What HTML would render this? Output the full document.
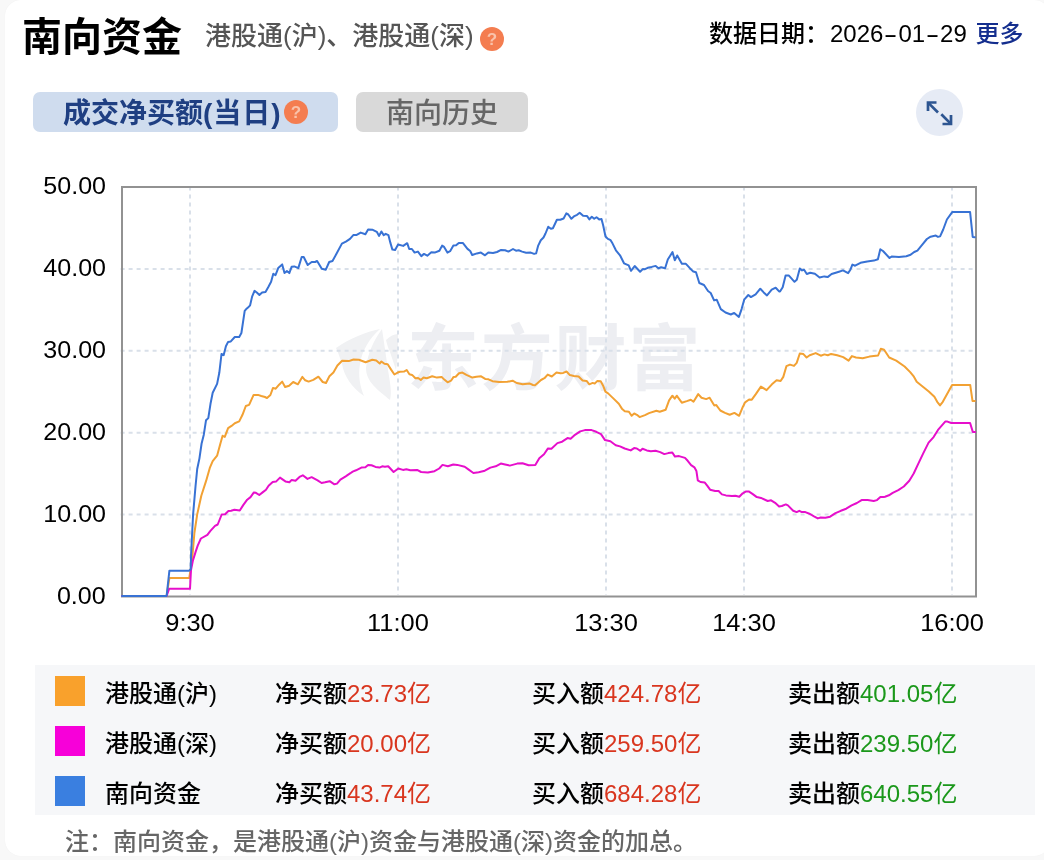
<!DOCTYPE html>
<html lang="zh-CN">
<head>
<meta charset="utf-8">
<title>南向资金</title>
<style>
*{margin:0;padding:0;box-sizing:border-box;}
html,body{width:1044px;height:860px;overflow:hidden;background:#f8f8f8;}
body{position:relative;font-family:"Liberation Sans","Noto Sans CJK SC",sans-serif;color:#000;}
.card{position:absolute;left:5px;top:0;width:1045px;height:856px;background:#fff;border-radius:16px;box-shadow:0 0 1px #eee;}
.abs{position:absolute;white-space:nowrap;}
.wrap{position:absolute;left:0;top:0;width:1044px;height:860px;will-change:transform;}
.title{left:22px;top:12px;font-size:40px;font-weight:bold;line-height:50px;}
.sub{left:205px;top:18px;font-size:26px;color:#555;line-height:36px;font-weight:500;}
.q{display:inline-block;width:23px;height:23px;border-radius:50%;background:#f47d50;color:#f9c3ab;font-size:17px;font-weight:bold;text-align:center;line-height:25px;font-family:"Liberation Sans",sans-serif;}
.date{top:17px;font-size:24px;line-height:34px;font-weight:500;}
.dh{display:inline-block;width:15px;text-align:center;transform:scaleX(1.7);}
.date a{color:#142e8e;text-decoration:none;}
.tab1{left:33px;top:92px;width:305px;height:40px;background:#cfdcee;border-radius:7px;}
.tab1 span.t{position:absolute;left:30px;top:2px;font-size:28px;font-weight:bold;color:#1f3f82;line-height:40px;}
.tab2{left:356px;top:92px;width:172px;height:40px;background:#d9d9d9;border-radius:7px;}
.tab2 span{position:absolute;left:30px;top:1.5px;font-size:28px;color:#666;font-weight:500;line-height:40px;}
.exp{left:915.5px;top:88.5px;width:47px;height:47px;border-radius:50%;background:#e6ebf5;}
.ylab{font-size:24px;right:937.8px;line-height:24px;transform:scaleX(1.045);transform-origin:right center;}
.xlab{font-size:24px;line-height:24px;top:611px;transform:translateX(-50%) scaleX(1.06);}
.legend{left:35px;top:665px;width:1000px;height:150px;background:#f6f7f9;}
.row{position:absolute;left:0;width:1000px;height:50px;font-size:24px;line-height:50px;}
.sw{position:absolute;left:20px;top:11px;width:30px;height:30px;}
.row span{position:absolute;top:3.5px;font-weight:500;}
.red{color:#d9361f;}
.green{color:#1b981b;}
.wm{left:407px;top:308.5px;font-size:72px;font-weight:bold;color:#edeef2;letter-spacing:1.8px;line-height:100px;font-family:"Liberation Sans","Noto Sans CJK SC",sans-serif;}
.note{left:65px;top:823.5px;font-size:24px;color:#666;line-height:36px;font-weight:500;}
</style>
</head>
<body>
<div class="card"></div>
<div class="wrap">
<div class="abs title">南向资金</div>
<div class="abs sub">港股通(沪)、港股通(深)</div>
<div class="abs q" style="left:480px;top:27px;width:24px;height:24px;line-height:26px;">?</div>
<div class="abs date" style="left:709px">数据日期：</div>
<div class="abs date" style="left:830px">2026<span class="dh">-</span>01<span class="dh">-</span>29</div>
<div class="abs date" style="left:975.5px"><a>更多</a></div>
<div class="abs tab1"><span class="t">成交净买额<span style="letter-spacing:1px">(当日)</span></span><span class="q" style="position:absolute;left:251px;top:8px;width:24px;height:24px;line-height:26px;">?</span></div>
<div class="abs tab2"><span>南向历史</span></div>
<div class="abs exp"><svg width="47" height="47" viewBox="0 0 47 47"><g fill="none" stroke="#2d5591" stroke-width="2.7" stroke-linecap="butt" stroke-linejoin="miter"><path d="M12 22V13.5H20.5"/><path d="M12.6 14.1L22 23.5"/><path d="M35 26V35H26.5"/><path d="M34.4 34.4L25.3 25.3"/></g></svg></div>

<div class="abs wm">东方财富</div>
<svg class="abs" style="left:330px;top:324px" width="75" height="78" viewBox="0 0 75 78"><g fill="#f0f1f3">
<path d="M6 24 C20 14 36 8 50 5 C40 14 32 26 30 40 C28 52 30 62 34 72 C22 64 14 52 12 40 C10 34 8 28 6 24Z"/>
<path d="M36 44 C38 28 44 16 52 5 C54 18 56 32 58 46 C60 58 62 68 60 76 C48 66 36 58 36 44Z"/>
<path d="M56 16 C60 12 64 10 68 10 C68 22 68 34 66 46 C64 40 62 34 60 28 C58 24 57 20 56 16Z"/>
</g></svg>
<svg class="abs" style="left:0;top:0" width="1044" height="860" viewBox="0 0 1044 860">
  <g stroke="#d9e0e9" stroke-width="2" stroke-dasharray="4,4" fill="none">
    <path d="M120.6 268.9H975M120.6 350.8H975M120.6 432.7H975M120.6 514.6H975"/>
    <path d="M190 186.4V595M398 186.4V595M606 186.4V595M744 186.4V595M952 186.4V595"/>
  </g>
  <rect x="122" y="187" width="854" height="409.5" fill="none" stroke="#929292" stroke-width="2"/>
  <g id="lines" fill="none" stroke-width="2" stroke-linejoin="round" stroke-linecap="round">
<path stroke="#f2a133" d="M122.0,596.0 L166.6,596.0 L169.4,577.9 L189.3,577.9 L190.5,570.0 L192.0,560.9 L194.4,533.0 L197.2,514.4 L201.3,495.8 L206.1,480.9 L209.8,467.9 L212.7,461.2 L217.1,455.7 L220.4,443.5 L222.6,435.8 L224.8,436.9 L228.1,428.1 L231.5,425.9 L234.8,423.2 L239.2,421.4 L242.5,414.8 L245.8,406.0 L249.1,404.9 L253.6,394.9 L258.0,394.9 L261.3,396.0 L265.0,397.0 L267.0,398.1 L270.4,395.0 L273.0,387.9 L275.7,388.7 L279.1,384.7 L282.2,381.6 L285.1,387.0 L289.1,385.7 L293.2,382.0 L297.9,384.3 L302.3,376.9 L305.2,380.3 L308.6,381.6 L313.3,379.9 L318.4,376.7 L322.7,382.0 L326.0,383.0 L329.4,376.3 L333.4,372.6 L337.4,365.5 L342.1,360.8 L348.8,361.1 L353.5,359.5 L358.9,359.8 L365.6,362.2 L372.3,359.8 L376.3,360.6 L379.7,363.5 L381.4,361.5 L384.4,363.8 L387.7,364.2 L391.1,369.6 L394.4,374.5 L398.4,372.2 L400.0,371.8 L404.0,371.6 L406.7,370.0 L409.4,374.3 L412.1,374.9 L415.4,378.3 L418.1,378.0 L420.8,379.9 L423.5,377.6 L426.8,378.3 L432.2,376.3 L436.9,377.6 L441.6,376.9 L444.3,379.6 L447.6,382.3 L451.0,380.7 L453.6,376.9 L455.7,376.7 L459.0,373.2 L462.4,372.6 L466.4,374.9 L469.7,376.3 L472.4,377.6 L476.4,376.7 L481.1,376.3 L485.2,378.9 L488.5,379.3 L492.5,381.2 L499.2,382.0 L507.3,381.8 L512.6,380.7 L516.7,383.0 L522.7,384.3 L529.4,383.4 L533.0,385.0 L535.0,385.3 L537.7,382.9 L541.0,380.0 L544.4,378.2 L547.7,374.6 L551.8,376.5 L556.5,372.5 L560.5,373.3 L563.2,372.9 L566.5,371.5 L569.9,375.1 L573.9,375.9 L578.6,376.5 L582.6,380.5 L586.6,380.9 L589.3,384.3 L592.7,382.9 L594.7,383.6 L597.4,380.9 L600.7,381.3 L603.4,386.3 L605.4,391.6 L608.1,393.4 L612.8,397.9 L618.8,403.7 L622.2,409.1 L624.8,411.3 L628.9,411.7 L631.6,415.8 L634.2,413.5 L636.9,414.8 L639.6,417.1 L645.0,415.1 L649.0,413.1 L656.4,410.8 L659.7,411.7 L665.7,409.7 L669.1,400.3 L672.4,395.7 L674.7,398.7 L676.7,395.7 L681.8,402.7 L686.8,401.1 L690.8,399.7 L693.5,401.7 L698.2,394.1 L701.5,397.7 L706.2,399.1 L709.6,397.7 L714.3,405.4 L716.3,405.1 L720.3,410.5 L725.0,412.9 L729.7,414.8 L734.4,412.9 L739.1,415.8 L742.4,407.8 L745.1,402.4 L749.1,399.5 L751.8,399.7 L755.8,394.1 L760.9,386.6 L766.6,390.1 L771.9,384.3 L776.6,380.3 L780.6,381.0 L783.3,376.9 L786.4,366.2 L790.0,364.6 L794.0,365.9 L796.7,362.9 L799.8,353.5 L803.4,354.1 L806.6,357.5 L809.7,355.2 L815.7,353.1 L820.8,355.7 L824.4,354.4 L827.8,355.2 L831.1,353.9 L837.2,355.2 L843.2,357.1 L848.6,360.6 L851.9,356.1 L856.0,357.5 L862.7,358.2 L869.4,356.6 L878.1,355.5 L880.8,348.8 L884.1,349.8 L889.2,357.5 L896.2,360.6 L904.6,366.5 L910.2,372.1 L913.9,376.7 L916.7,381.8 L923.2,387.0 L928.8,391.6 L934.4,396.7 L937.2,401.8 L940.0,405.4 L942.8,401.8 L952.1,384.9 L970.2,384.9 L972.5,400.9 L974.8,400.9"/>
<path stroke="#e60fcb" d="M122.0,596.0 L166.6,596.0 L169.1,588.8 L190.0,588.8 L191.0,570.0 L192.8,561.0 L195.6,551.9 L197.7,545.6 L200.9,538.5 L207.4,534.8 L210.2,531.1 L215.0,525.9 L217.7,524.5 L221.7,514.5 L225.1,514.2 L228.4,511.1 L231.1,510.7 L234.4,509.8 L239.8,510.5 L243.2,505.1 L247.2,499.7 L250.5,497.1 L253.9,492.4 L255.9,492.8 L259.3,495.0 L262.6,492.4 L266.0,489.7 L268.6,485.7 L272.7,482.0 L276.0,481.6 L280.0,477.6 L285.4,481.4 L289.4,482.3 L291.7,479.9 L295.5,480.7 L299.5,476.9 L302.8,475.3 L307.5,478.9 L311.6,477.2 L317.6,480.3 L321.6,483.0 L325.0,482.3 L329.7,481.2 L334.4,484.3 L337.0,483.6 L340.4,479.6 L345.7,476.3 L350.4,473.2 L352.7,471.6 L356.0,470.3 L361.4,467.6 L365.4,467.2 L368.1,464.9 L371.5,465.3 L375.5,466.9 L379.5,467.6 L382.2,466.3 L384.9,466.7 L388.2,466.3 L393.6,472.0 L398.3,468.5 L403.0,469.9 L406.3,469.3 L410.3,470.3 L417.1,469.9 L421.1,472.0 L427.8,472.6 L434.5,471.2 L439.2,468.5 L442.5,464.9 L447.9,466.3 L453.3,464.5 L457.3,464.9 L464.7,466.7 L468.7,469.6 L473.4,473.0 L478.7,472.3 L484.8,470.7 L490.4,467.6 L495.7,466.3 L500.8,463.6 L505.1,464.5 L509.8,465.6 L517.2,463.6 L522.5,463.2 L528.6,465.3 L535.3,464.9 L539.3,458.2 L544.0,454.2 L548.0,448.4 L551.4,448.8 L557.4,443.1 L562.1,441.7 L567.5,438.1 L570.6,438.8 L574.2,435.4 L580.2,431.4 L584.9,430.1 L591.6,430.1 L596.3,431.8 L601.0,434.1 L605.0,440.1 L610.4,441.2 L615.7,445.2 L620.0,446.4 L624.7,448.5 L630.7,450.4 L634.1,448.1 L636.8,448.5 L640.4,450.8 L642.5,448.8 L646.8,450.4 L650.8,451.2 L655.5,450.8 L660.2,452.1 L664.3,454.1 L668.3,453.1 L672.3,452.5 L675.0,456.6 L679.0,456.1 L685.0,457.9 L687.7,460.8 L691.1,465.1 L694.4,467.3 L696.4,470.9 L697.8,480.3 L700.5,482.0 L704.8,482.6 L707.2,485.7 L710.1,489.7 L715.2,491.0 L718.6,491.0 L721.9,494.4 L725.9,495.4 L732.0,496.0 L735.3,495.7 L739.3,496.8 L742.7,493.3 L746.1,491.4 L748.7,491.4 L752.8,494.1 L756.8,497.1 L761.0,497.9 L767.7,501.0 L771.1,500.3 L775.1,502.8 L779.1,506.4 L781.8,506.0 L785.8,504.4 L787.9,505.4 L793.2,510.8 L796.6,512.1 L799.3,510.8 L801.9,512.1 L805.3,512.1 L810.0,514.0 L814.0,516.4 L817.8,518.4 L820.7,517.5 L825.4,517.8 L830.1,516.7 L835.5,513.1 L840.8,510.8 L846.2,508.7 L851.6,505.4 L856.9,503.0 L861.6,500.1 L867.6,500.1 L873.7,501.0 L877.0,500.1 L880.4,497.0 L883.7,497.0 L885.0,496.7 L888.9,495.3 L892.7,492.9 L898.3,490.1 L903.8,486.5 L909.3,480.7 L913.7,473.5 L918.1,464.1 L923.1,453.6 L928.6,442.6 L933.6,437.1 L938.0,429.9 L945.2,421.6 L947.4,421.6 L951.3,423.0 L970.1,423.0 L972.8,431.9 L975.1,431.9"/>
<path stroke="#3872d4" d="M122.0,596.0 L166.6,596.0 L169.4,570.7 L189.0,570.7 L190.7,569.3 L191.1,554.0 L191.8,540.0 L193.1,514.4 L195.5,486.5 L197.2,469.0 L199.4,458.6 L201.6,443.5 L203.8,434.7 L206.0,420.3 L208.3,418.1 L210.5,403.8 L212.7,392.7 L217.1,383.9 L219.3,372.8 L221.5,354.0 L223.7,355.1 L225.9,346.3 L228.1,341.9 L230.8,341.4 L234.8,337.0 L239.2,337.0 L241.4,333.0 L244.7,310.9 L246.0,309.3 L248.0,307.6 L250.1,305.3 L252.1,296.6 L254.5,290.9 L256.8,292.5 L259.4,294.9 L262.1,292.5 L265.5,291.9 L268.2,287.2 L271.1,281.8 L273.3,273.8 L275.5,275.1 L278.2,268.1 L282.2,264.4 L284.5,273.1 L286.9,271.1 L289.3,273.1 L291.6,266.8 L294.3,266.4 L298.3,268.1 L301.7,257.0 L303.7,257.0 L307.7,265.0 L311.7,262.0 L315.1,262.0 L317.1,261.0 L321.8,268.7 L325.8,269.7 L329.2,262.0 L332.5,261.0 L336.6,253.6 L341.9,243.6 L345.9,241.6 L350.0,238.9 L353.3,235.1 L356.7,234.9 L360.7,232.6 L365.4,234.2 L368.1,229.5 L372.8,229.8 L376.8,231.8 L379.0,235.9 L381.4,231.5 L383.7,235.1 L385.7,233.8 L388.4,235.1 L390.4,242.9 L392.4,249.6 L395.1,249.9 L398.1,244.5 L403.2,245.9 L407.2,243.2 L409.2,249.0 L411.9,249.0 L414.6,252.6 L417.9,251.6 L421.3,256.1 L424.0,253.9 L427.3,255.7 L431.3,252.3 L434.7,252.6 L439.4,250.7 L442.1,245.6 L444.1,246.9 L447.4,252.6 L450.1,251.2 L453.4,245.6 L456.1,245.3 L458.8,242.9 L462.8,242.9 L467.5,248.9 L470.2,251.0 L472.2,255.0 L476.9,253.4 L480.9,252.6 L485.0,255.3 L488.3,252.6 L493.0,253.0 L497.0,252.0 L501.1,249.9 L505.1,250.3 L508.4,251.6 L513.0,249.0 L516.0,250.7 L518.7,250.3 L522.1,251.6 L526.1,252.7 L530.8,252.6 L534.1,253.9 L536.1,253.4 L538.2,245.6 L540.8,240.2 L543.5,237.5 L545.5,233.5 L548.2,226.8 L550.9,228.8 L552.9,228.2 L556.9,219.8 L560.3,219.8 L563.6,218.5 L566.3,213.4 L568.3,214.5 L571.4,218.8 L574.4,216.1 L577.1,214.8 L579.7,212.7 L583.1,215.8 L587.1,216.1 L589.4,219.4 L591.8,216.8 L594.2,218.8 L596.5,217.2 L599.2,219.4 L601.5,219.0 L603.2,225.5 L605.5,236.5 L607.9,238.9 L610.6,240.2 L612.6,243.6 L615.9,250.3 L620.0,255.3 L624.0,263.3 L628.7,265.4 L631.0,270.8 L634.7,266.0 L640.1,271.7 L642.8,269.1 L645.0,269.2 L647.7,267.8 L651.7,266.9 L655.7,265.9 L658.4,268.2 L661.1,267.3 L665.1,268.2 L667.8,259.5 L672.5,252.1 L674.8,260.2 L677.2,255.5 L681.9,263.8 L685.9,263.8 L689.9,268.2 L693.3,271.6 L696.0,272.2 L699.3,283.0 L704.0,285.0 L708.0,291.0 L710.7,293.0 L714.1,300.4 L716.7,299.7 L720.8,309.1 L725.5,312.5 L730.8,314.5 L734.2,312.9 L738.9,316.9 L741.6,309.1 L744.2,299.7 L748.3,295.0 L750.9,297.1 L755.6,294.4 L760.3,288.7 L763.7,292.4 L767.0,295.4 L771.7,289.7 L775.7,287.7 L779.1,291.4 L780.0,291.5 L782.7,287.2 L785.6,275.4 L788.7,275.4 L791.4,278.4 L794.5,281.8 L796.8,279.8 L799.8,268.4 L802.1,270.4 L804.1,269.7 L806.8,274.0 L810.2,272.7 L814.9,273.8 L819.6,277.5 L824.3,276.4 L827.6,277.1 L831.6,274.0 L839.0,271.7 L843.0,270.4 L848.1,273.1 L850.4,269.7 L852.4,264.6 L855.1,265.7 L860.5,262.8 L867.2,261.4 L873.9,260.6 L877.9,259.3 L880.3,249.3 L883.0,251.0 L889.5,258.0 L891.6,256.6 L899.0,256.9 L906.3,256.2 L910.6,254.8 L914.2,252.0 L917.4,250.6 L922.1,244.8 L926.9,239.0 L930.6,236.7 L935.8,235.6 L938.0,236.9 L940.1,236.4 L943.2,229.5 L946.9,219.5 L952.2,212.1 L970.1,212.1 L972.7,236.9 L974.8,237.2"/>
  </g>
</svg>

<div class="abs ylab" style="top:174px">50.00</div>
<div class="abs ylab" style="top:256px">40.00</div>
<div class="abs ylab" style="top:338px">30.00</div>
<div class="abs ylab" style="top:420px">20.00</div>
<div class="abs ylab" style="top:502px">10.00</div>
<div class="abs ylab" style="top:584px">0.00</div>

<div class="abs xlab" style="left:190.3px">9:30</div>
<div class="abs xlab" style="left:398px">11:00</div>
<div class="abs xlab" style="left:606px">13:30</div>
<div class="abs xlab" style="left:744px">14:30</div>
<div class="abs xlab" style="left:952px">16:00</div>

<div class="abs legend">
  <div class="row" style="top:0"><div class="sw" style="background:#f9a12c"></div><span style="left:70px">港股通(沪)</span><span style="left:240px">净买额<b class="red" style="font-weight:normal">23.73亿</b></span><span style="left:497px">买入额<b class="red" style="font-weight:normal">424.78亿</b></span><span style="left:753px">卖出额<b class="green" style="font-weight:normal">401.05亿</b></span></div>
  <div class="row" style="top:50px"><div class="sw" style="background:#f700d9"></div><span style="left:70px">港股通(深)</span><span style="left:240px">净买额<b class="red" style="font-weight:normal">20.00亿</b></span><span style="left:497px">买入额<b class="red" style="font-weight:normal">259.50亿</b></span><span style="left:753px">卖出额<b class="green" style="font-weight:normal">239.50亿</b></span></div>
  <div class="row" style="top:100px"><div class="sw" style="background:#3a7fe0"></div><span style="left:70px">南向资金</span><span style="left:240px">净买额<b class="red" style="font-weight:normal">43.74亿</b></span><span style="left:497px">买入额<b class="red" style="font-weight:normal">684.28亿</b></span><span style="left:753px">卖出额<b class="green" style="font-weight:normal">640.55亿</b></span></div>
</div>
<div class="abs note">注：南向资金，是港股通(沪)资金与港股通(深)资金的加总。</div>
</div>
</body>
</html>
